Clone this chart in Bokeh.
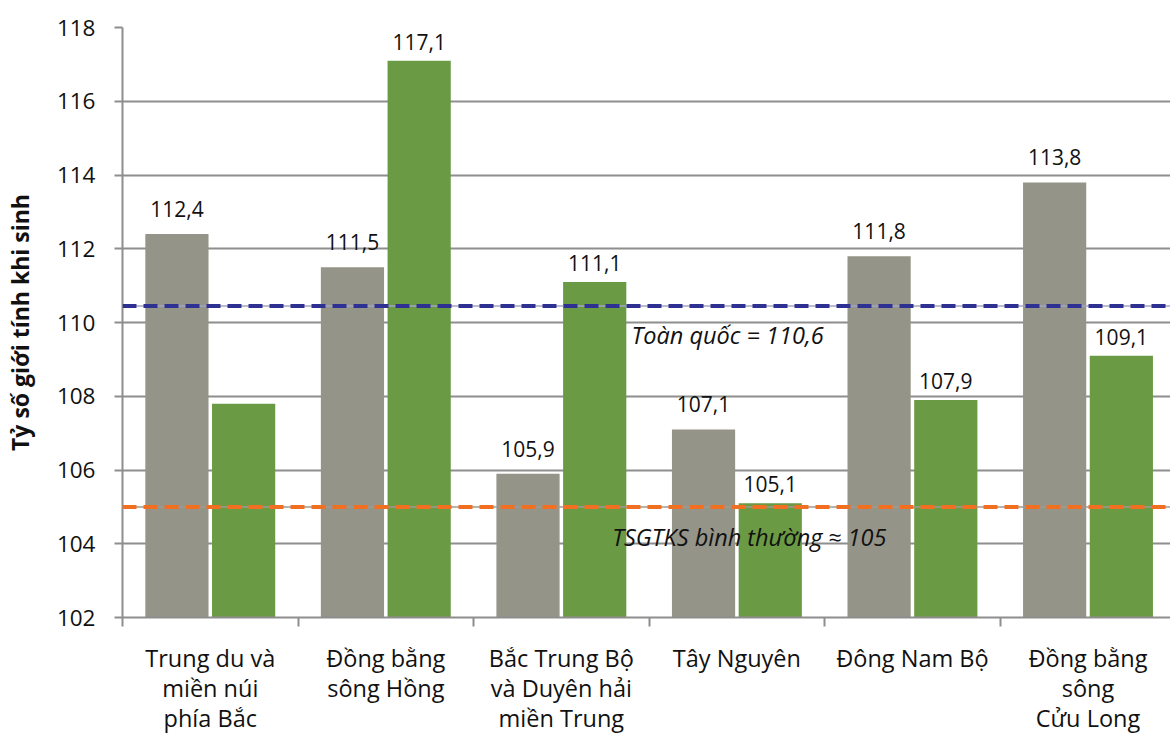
from bokeh.plotting import figure
from bokeh.models import ColumnDataSource, FixedTicker, Label, Span
from bokeh.core.properties import value
from bokeh.embed import file_html
from bokeh.resources import INLINE

categories = ["Trung du và\nmiền núi\nphía Bắc", "Đồng bằng\nsông Hồng",
              "Bắc Trung Bộ\nvà Duyên hải\nmiền Trung", "Tây Nguyên",
              "Đông Nam Bộ", "Đồng bằng\nsông\nCửu Long"]
gray_values = [112.4, 111.5, 105.9, 107.1, 111.8, 113.8]
green_values = [107.8, 117.1, 111.1, 105.1, 107.9, 109.1]
gray_labels = ["112,4", "111,5", "105,9", "107,1", "111,8", "113,8"]
green_labels = ["", "117,1", "111,1", "105,1", "107,9", "109,1"]
national_value = 110.45
national_text = "Toàn quốc = 110,6"
normal_value = 105
normal_text = "TSGTKS bình thường ≈ 105"
y_ticks = [102, 104, 106, 108, 110, 112, 114, 116, 118]
y_label = "Tỷ số giới tính khi sinh"

FONT = "Open Sans"
GRAY = "#959489"
GREEN = "#6a9a43"
BLUE = "#2e3192"
ORANGE = "#f26f21"
GRID = "#8e8e8e"

n = len(categories)
centers = [i + 0.5 for i in range(n)]
gray_x = [c - 0.19 for c in centers]
green_x = [c + 0.19 for c in centers]

p = figure(width=1170, height=737, output_backend="svg", toolbar_location=None,
           x_range=(0, 5.97), y_range=(102, 118),
           min_border_left=122, min_border_top=27, min_border_bottom=120,
           min_border_right=0)
p.outline_line_color = None
p.background_fill_color = "white"
p.border_fill_color = "white"

gsrc = ColumnDataSource(dict(x=gray_x, top=gray_values, lab=gray_labels))
esrc = ColumnDataSource(dict(x=green_x, top=green_values, lab=green_labels))

p.vbar(x="x", top="top", bottom=102, width=0.36, source=gsrc,
       fill_color=GRAY, line_color=None)
p.vbar(x="x", top="top", bottom=102, width=0.36, source=esrc,
       fill_color=GREEN, line_color=None)

# reference lines (thin line under thick dashed)
for val, col, thin in [(national_value, BLUE, "#a4a4c4"), (normal_value, ORANGE, "#a09890")]:
    p.add_layout(Span(location=val, dimension="width", line_color=thin, line_width=1.5))
    p.add_layout(Span(location=val, dimension="width", line_color=col, line_width=4,
                      line_dash="14 7"))

p.text(x="x", y="top", text="lab", source=gsrc, text_align="center",
       text_baseline="middle", y_offset=-25, text_font=value(FONT),
       text_font_size="21px", text_color="#111111")
p.text(x="x", y="top", text="lab", source=esrc, text_align="center",
       text_baseline="middle", y_offset=-19, text_font=value(FONT),
       text_font_size="21px", text_color="#111111")

p.add_layout(Label(x=2.9, y=109.65, text=national_text, text_font=FONT,
                   text_font_style="italic", text_font_size="23.5px",
                   text_baseline="middle", text_color="#111111"))
p.add_layout(Label(x=2.79, y=104.17, text=normal_text, text_font=FONT,
                   text_font_style="italic", text_font_size="23.5px",
                   text_baseline="middle", text_color="#111111"))

# grid
p.xgrid.grid_line_color = None
p.ygrid.ticker = FixedTicker(ticks=y_ticks)
p.ygrid.grid_line_color = GRID
p.ygrid.grid_line_width = 2
p.ygrid.level = "underlay"

# y axis
p.yaxis.ticker = FixedTicker(ticks=y_ticks)
p.yaxis.axis_line_color = GRID
p.yaxis.axis_line_width = 2
p.yaxis.major_tick_line_color = GRID
p.yaxis.major_tick_line_width = 2
p.yaxis.major_tick_out = 8
p.yaxis.major_tick_in = 0
p.yaxis.minor_tick_line_color = None
p.yaxis.major_label_standoff = 19
p.yaxis.major_label_text_font = FONT
p.yaxis.major_label_text_font_size = "22.5px"
p.yaxis.major_label_text_color = "#111111"
p.yaxis.axis_label = y_label
p.yaxis.axis_label_text_font = FONT
p.yaxis.axis_label_text_font_size = "23px"
p.yaxis.axis_label_text_font_style = "bold"
p.yaxis.axis_label_text_color = "#111111"
p.yaxis.axis_label_standoff = 18

# x axis
p.xaxis.ticker = FixedTicker(ticks=centers, minor_ticks=list(range(n + 1)))
p.xaxis.major_label_overrides = {c: lab for c, lab in zip(centers, categories)}
p.xaxis.axis_line_color = GRID
p.xaxis.axis_line_width = 2
p.xaxis.major_tick_line_color = None
p.xaxis.major_tick_out = 0
p.xaxis.major_tick_in = 0
p.xaxis.minor_tick_line_color = GRID
p.xaxis.minor_tick_line_width = 2
p.xaxis.minor_tick_out = 9
p.xaxis.minor_tick_in = 0
p.xaxis.major_label_standoff = 15
p.xaxis.major_label_text_font = FONT
p.xaxis.major_label_text_font_size = "23.5px"
p.xaxis.major_label_text_color = "#111111"
p.xaxis.major_label_text_line_height = 0.95

open("out.html", "w").write(file_html(p, INLINE))
